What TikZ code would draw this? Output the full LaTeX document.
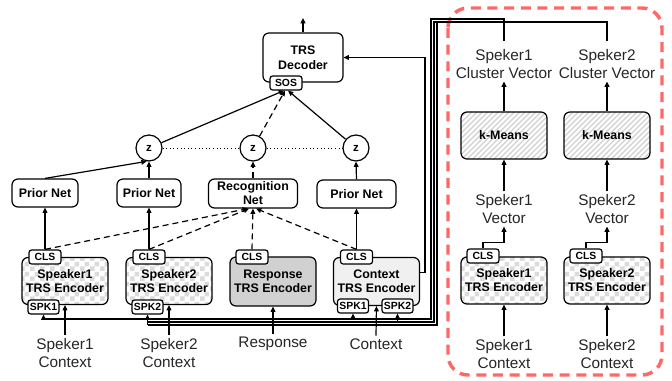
\documentclass[tikz,border=0pt]{standalone}
\usepackage{fontspec}
\setmainfont{Liberation Sans}
\usetikzlibrary{arrows.meta,patterns,calc}

% light checker fill for the speaker encoders
\pgfdeclarepatternformonly{chk}{\pgfpointorigin}{\pgfqpoint{7.5pt}{7.5pt}}{\pgfqpoint{7.5pt}{7.5pt}}{%
  \pgfpathrectangle{\pgfpointorigin}{\pgfqpoint{3.75pt}{3.75pt}}%
  \pgfpathrectangle{\pgfqpoint{3.75pt}{3.75pt}}{\pgfqpoint{3.75pt}{3.75pt}}%
  \pgfusepath{fill}}
% diagonal hatch for the k-Means boxes
\pgfdeclarepatternformonly{hatchx}{\pgfqpoint{-1pt}{-1pt}}{\pgfqpoint{5pt}{5pt}}{\pgfqpoint{4pt}{4pt}}{%
  \pgfsetlinewidth{0.9pt}%
  \pgfpathmoveto{\pgfqpoint{0pt}{0pt}}\pgfpathlineto{\pgfqpoint{4.1pt}{4.1pt}}%
  \pgfusepath{stroke}}

\definecolor{txt}{HTML}{262626}
\definecolor{redbox}{HTML}{FF6868}

\begin{document}
\begin{tikzpicture}[x=0.75pt,y=-0.75pt,
  ln/.style={line width=0.9pt},
  arr/.style={ln,-{Triangle[length=4pt,width=3.6pt]}},
  darr/.style={arr,dash pattern=on 4.5pt off 3pt},
  box/.style={draw,line width=0.9pt,rounded corners=4.5pt,align=center,
    font=\bfseries\fontsize{9.3}{10.5}\selectfont,inner sep=1pt},
  enc/.style={box,minimum width=64.5pt,minimum height=35.25pt},
  chkfill/.style={pattern=chk,pattern color=black!14},
  tag/.style={draw,fill=white,line width=0.9pt,rounded corners=2pt,inner sep=0pt,
    minimum height=10.5pt,font=\bfseries\fontsize{7.8}{8.5}\selectfont},
  zc/.style={circle,draw,line width=0.9pt,minimum size=19.5pt,inner sep=0pt,
    font=\bfseries\fontsize{8.6}{9}\selectfont},
  lbl/.style={align=center,inner sep=2pt,text=txt,font=\fontsize{11.5}{13.5}\selectfont}]

\fill[white] (0,0) rectangle (672,381);
\useasboundingbox (0,0) rectangle (672,381);

% ---------- right panel: speaker clustering ----------
\draw[redbox,line width=2.6pt,dash pattern=on 7.5pt off 5pt,rounded corners=15pt]
  (448,8) rectangle (662,375);

\node[lbl] (cv1) at (504,64) {Speker1\\Cluster Vector};
\node[lbl] (cv2) at (607,64) {Speker2\\Cluster Vector};
\node[box,pattern=hatchx,pattern color=black!18,minimum width=64.5pt,minimum height=35.25pt]
  (km1) at (504,135.5) {k-Means};
\node[box,pattern=hatchx,pattern color=black!18,minimum width=64.5pt,minimum height=35.25pt]
  (km2) at (607,135.5) {k-Means};
\node[lbl] (v1) at (504,209) {Speker1\\Vector};
\node[lbl] (v2) at (607,209) {Speker2\\Vector};
\node[enc,chkfill] (renc1) at (504,280.5) {Speaker1\\TRS Encoder};
\node[enc,chkfill] (renc2) at (607,280.5) {Speaker2\\TRS Encoder};
\node[tag,minimum width=24pt] (rcls1) at (483,256) {CLS};
\node[tag,minimum width=24pt] (rcls2) at (586,256) {CLS};
\node[lbl] (rt1) at (504,354) {Speker1\\Context};
\node[lbl] (rt2) at (607,354) {Speker2\\Context};

\draw[arr] (km1.north) -- (cv1.south);
\draw[arr] (km2.north) -- (cv2.south);
\draw[arr] (v1.north) -- (km1.south);
\draw[arr] (v2.north) -- (km2.south);
\draw[arr] (rcls1.north) -- ++(0,-6) -| (v1.south);
\draw[arr] (rcls2.north) -- ++(0,-6) -| (v2.south);
\draw[arr] (rt1.north) -- (renc1.south);
\draw[arr] (rt2.north) -- (renc2.south);

% ---------- decoder and latent variables ----------
\node[box,font=\bfseries\fontsize{9.3}{11}\selectfont,minimum width=60pt,minimum height=36.75pt]
  (dec) at (303,57.5) {TRS\\Decoder};
\node[tag,minimum width=24pt] (sos) at (286,83) {SOS};
\coordinate (out) at (303,18);
\draw[arr] (dec.north) -- (out);

\node[zc] (z1) at (149,148) {z};
\node[zc] (z2) at (253,148) {z};
\node[zc] (z3) at (356,148) {z};
\draw[dotted,line width=0.7pt] (z1) -- (z2);
\draw[dotted,line width=0.7pt] (z2) -- (z3);

\draw[arr] (z1) -- ($(sos.south)+(-2,0)$);
\draw[darr] (z2) -- ($(sos.south)+(-1,0)$);
\draw[arr] (z3) -- ($(sos.south)+(2,0)$);

% ---------- prior / recognition networks ----------
\node[box,minimum width=49.5pt,minimum height=21pt] (pn1) at (45,193) {Prior Net};
\node[box,minimum width=48pt,minimum height=21pt] (pn2) at (149,193) {Prior Net};
\node[box,minimum width=66.75pt,minimum height=21.75pt] (rn) at (253,193.5) {Recognition\\Net};
\node[box,minimum width=59.25pt,minimum height=21pt] (pn3) at (356.5,194) {Prior Net};

\draw[arr] (pn1.north) -- (z1.260);
\draw[arr] (pn2.north) -- (z1.south);
\draw[darr] (rn.north) -- (z2.south);
\draw[arr] (pn3.north) -- (z3.south);

% ---------- encoders ----------
\node[enc,chkfill] (enc1) at (65,281) {Speaker1\\TRS Encoder};
\node[enc,chkfill] (enc2) at (169,281) {Speaker2\\TRS Encoder};
\node[enc,fill=black!18,minimum height=36.75pt] (encr) at (273,281.5) {Response\\TRS Encoder};
\node[enc,fill=black!6,minimum height=36pt] (encc) at (376.5,281.5) {Context\\TRS Encoder};

\node[tag,minimum width=24pt] (cls1) at (45,257) {CLS};
\node[tag,minimum width=24pt] (cls2) at (149,257) {CLS};
\node[tag,minimum width=24pt] (clsr) at (252,257) {CLS};
\node[tag,minimum width=24pt] (clsc) at (356.5,257) {CLS};
\node[tag,minimum width=23.25pt] (spk1a) at (43.5,307) {SPK1};
\node[tag,minimum width=23.25pt] (spk2a) at (147.5,307) {SPK2};
\node[tag,minimum width=23.25pt] (spk1c) at (353,306) {SPK1};
\node[tag,minimum width=23.25pt] (spk2c) at (397.5,306) {SPK2};

\draw[arr] (cls1.north) -- (pn1.south);
\draw[arr] (cls2.north) -- (pn2.south);
\draw[arr] (clsc.north) -- (pn3.south);
\draw[darr] (cls1.north) -- ($(rn.south)+(-5,0)$);
\draw[darr] (cls2.north) -- ($(rn.south)+(-4,0)$);
\draw[darr] (clsr.north) -- (rn.south);
\draw[darr] (clsc.north) -- ($(rn.south)+(3,0)$);

% ---------- inputs ----------
\node[lbl] (t1) at (65,353) {Speker1\\Context};
\node[lbl] (t2) at (169,353) {Speker2\\Context};
\node[lbl] (tr) at (273,344) {Response};
\node[lbl] (tc) at (376,344) {Context};
\draw[arr] (t1.north) -- (enc1.south);
\draw[arr] (t2.north) -- (enc2.south);
\draw[arr] (tr.north) -- (encr.south);
\draw[arr] (tc.north) -- (encc.south);

% ---------- context encoding into the decoder ----------
\draw[arr] ([yshift=6.75pt]encc.east) -| (425,57.5) -- (dec.east);

% ---------- cluster vectors fed back as speaker tokens ----------
\coordinate (b1) at (0,319);
\coordinate (b2) at (0,322);
\coordinate (b3) at (0,325);
\draw[ln] ([yshift=4pt]cv1.north) |- (431,19) |- (spk1a.south |- b1);
\draw[ln] ([yshift=4pt]cv2.north) |- (434,22) |- (spk2a.south |- b2);
\draw[ln] (437,22) |- (spk2a.south |- b3);
\draw[arr] (spk1a.south |- b1) -- (spk1a.south);
\draw[arr] (spk1c.south |- b1) -- (spk1c.south);
\draw[arr] (spk2a.south |- b3) -- (spk2a.south);
\draw[arr] (spk2c.south |- b2) -- (spk2c.south);
\end{tikzpicture}
\end{document}
